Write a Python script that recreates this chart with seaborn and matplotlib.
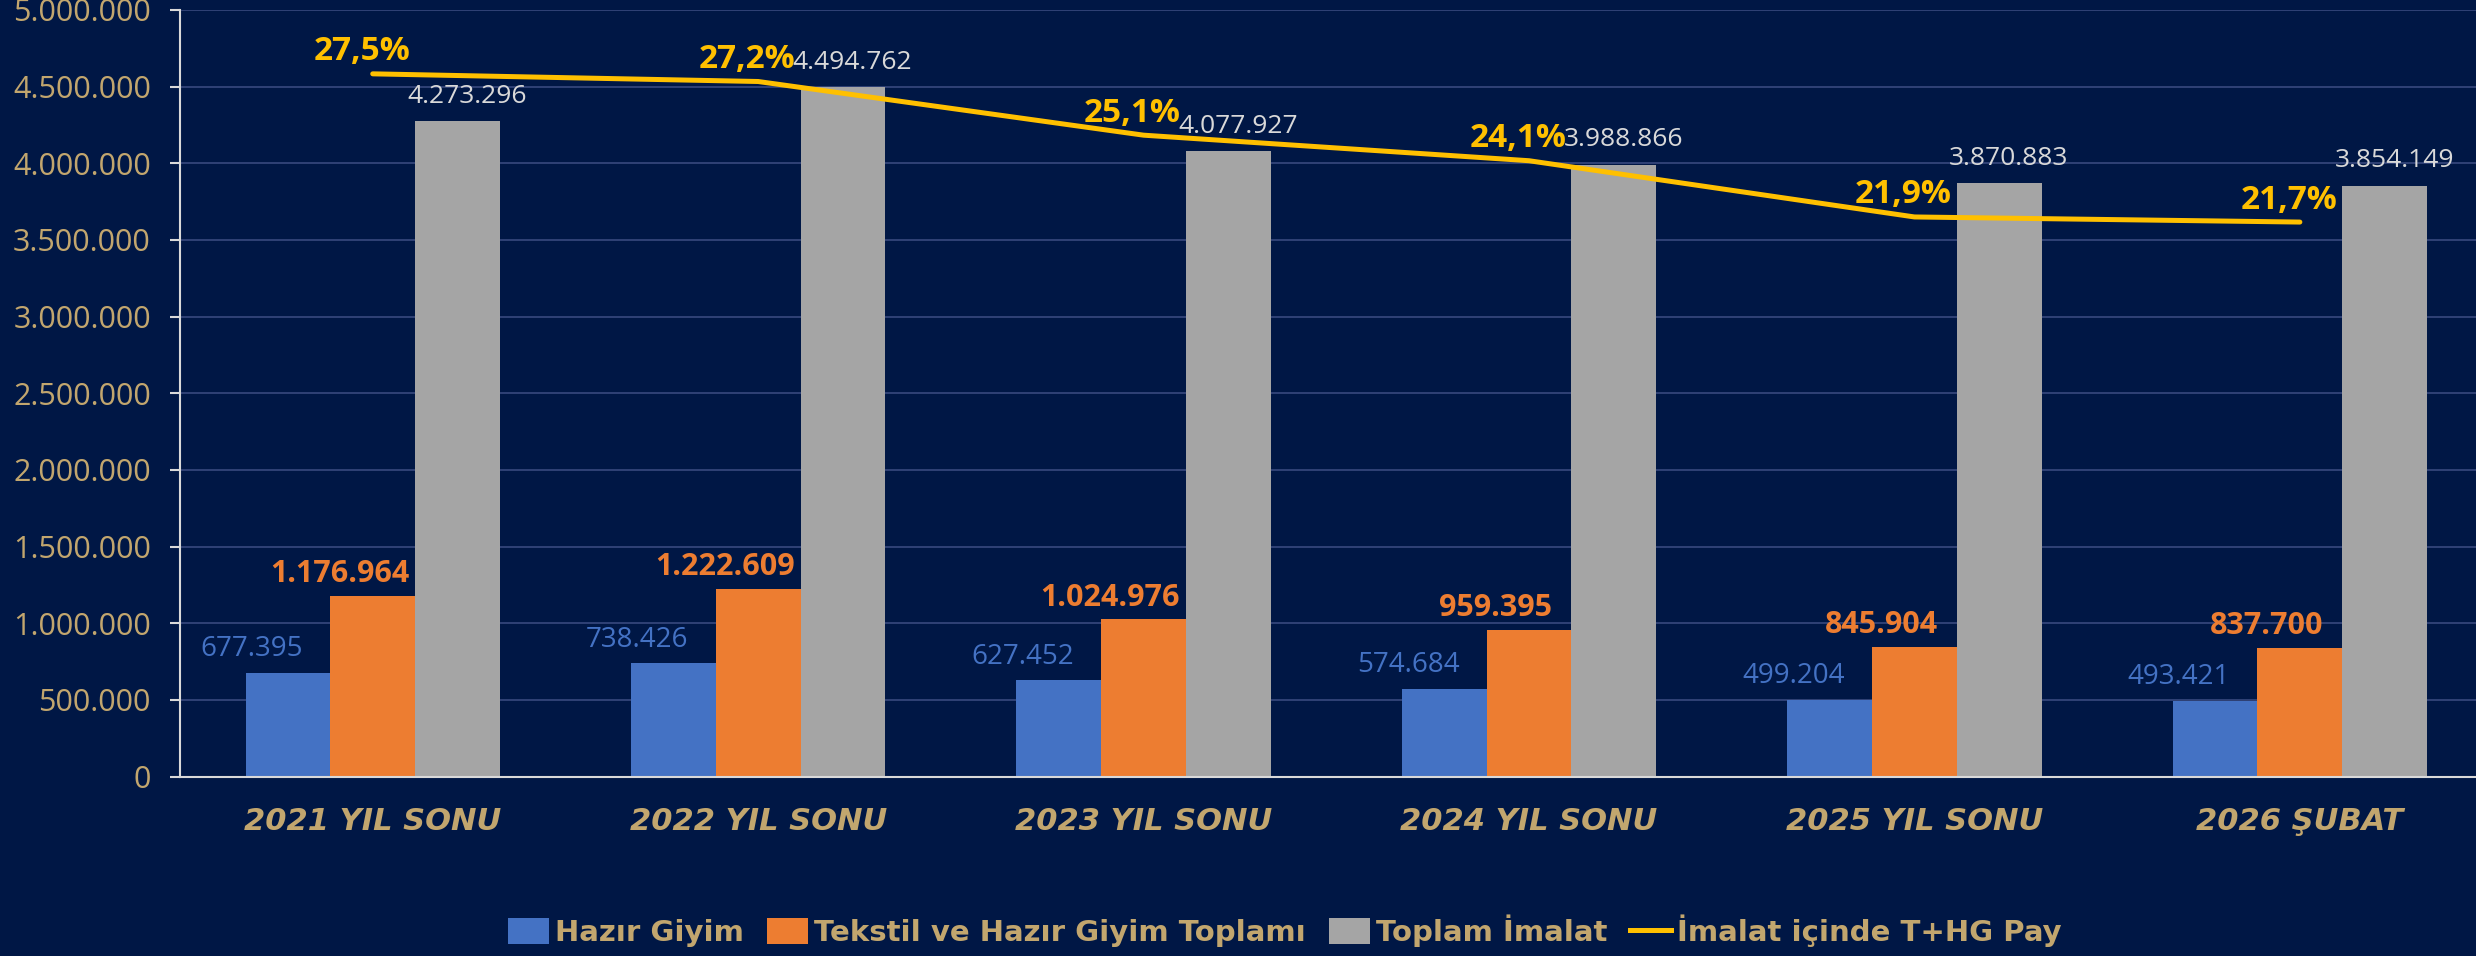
import numpy as np
import pandas as pd
import seaborn as sns
import matplotlib.pyplot as plt
from matplotlib.lines import Line2D

# veriler
donemler = ['2021 YIL SONU', '2022 YIL SONU', '2023 YIL SONU', '2024 YIL SONU', '2025 YIL SONU', '2026 ŞUBAT']
seriler = ['Hazır Giyim', 'Tekstil ve Hazır Giyim Toplamı', 'Toplam İmalat']
hazir_giyim = [677395, 738426, 627452, 574684, 499204, 493421]
tekstil_hg = [1176964, 1222609, 1024976, 959395, 845904, 837700]
toplam_imalat = [4273296, 4494762, 4077927, 3988866, 3870883, 3854149]
pay_adi = 'İmalat içinde T+HG Pay'
pay = [27.5, 27.2, 25.1, 24.1, 21.9, 21.7]
y_ticks = np.arange(0, 5000001, 500000)

bg = '#001745'
tan = '#C2A66E'
renkler = ['#4472C4', '#ED7D31', '#A5A5A5']
etiket_renk = ['#4472C4', '#ED7D31', '#D9D9D9']
sari = '#FFC000'

def tr(v):
    return f'{v:,.0f}'.replace(',', '.')

df = pd.DataFrame({
    'Dönem': donemler * 3,
    'Seri': np.repeat(seriler, len(donemler)),
    'Değer': hazir_giyim + tekstil_hg + toplam_imalat,
})

fig = plt.figure(figsize=(24.76, 9.56), dpi=100, facecolor=bg)
ax = fig.add_axes([0.0727, 0.1876, 0.934, 0.802])
ax.set_facecolor(bg)

sns.barplot(data=df, x='Dönem', y='Değer', hue='Seri', palette=renkler,
            width=0.66, gap=0, saturation=1, ax=ax)
handles, labels = ax.get_legend_handles_labels()
ax.get_legend().remove()

ax.set_xlim(-0.5, len(donemler) - 0.5)
ax.set_ylim(0, 5000000)
ax.set_yticks(y_ticks)
ax.set_yticklabels([tr(v) for v in y_ticks], fontsize=22, family='Open Sans', color=tan)
ax.set_xlabel('')
ax.set_ylabel('')
ax.yaxis.grid(True, color='#34457a', lw=1.3)
ax.set_axisbelow(True)
ax.tick_params(axis='y', colors='#D9D9D9', labelcolor=tan, length=7, width=1.5, pad=14)
ax.tick_params(axis='x', length=0, pad=22)
for lbl in ax.get_xticklabels():
    lbl.set_fontsize(22)
    lbl.set_fontweight('bold')
    lbl.set_fontstyle('italic')
    lbl.set_color(tan)
for s in ['top', 'right']:
    ax.spines[s].set_visible(False)
for s in ['left', 'bottom']:
    ax.spines[s].set_color('#D9D9D9')
    ax.spines[s].set_linewidth(1.5)

# bar etiketleri
ofsetler = [(-26, 7), (-24, 5), (7, 9)]
boyutlar = [20, 22, 19]
for i, cont in enumerate(ax.containers):
    for bar in cont:
        x = bar.get_x() + bar.get_width() / 2
        h = bar.get_height()
        ax.annotate(tr(h), (x, h), xytext=ofsetler[i], textcoords='offset points',
                    ha='center', va='bottom', fontsize=boyutlar[i],
                    fontweight='bold' if i == 1 else 'normal',
                    family='Open Sans', color=etiket_renk[i])

# pay cizgisi
ax2 = ax.twinx()
sns.lineplot(x=np.arange(len(donemler)), y=pay, ax=ax2, color=sari, lw=3.6,
             solid_capstyle='round')
ax2.set_ylim(0, 30)
ax2.set_axis_off()
for x, p in zip(np.arange(len(donemler)), pay):
    ax2.annotate(f'{p:.1f}%'.replace('.', ','), (x, p), xytext=(-8, 4),
                 textcoords='offset points', ha='center', va='bottom',
                 fontsize=24, fontweight='bold', family='Open Sans', color=sari)

handles.append(Line2D([0], [0], color=sari, lw=3.6))
labels.append(pay_adi)
fig.legend(handles, labels, loc='center', bbox_to_anchor=(0.519, 0.026), ncol=4,
           frameon=False, handlelength=1.4, handleheight=1.0, handletextpad=0.2,
           columnspacing=0.8, labelcolor=tan,
           prop={'family': ['Liberation Sans Narrow', 'DejaVu Sans'], 'size': 21, 'weight': 'bold'})

plt.savefig('out.png', dpi=100, facecolor=bg)
